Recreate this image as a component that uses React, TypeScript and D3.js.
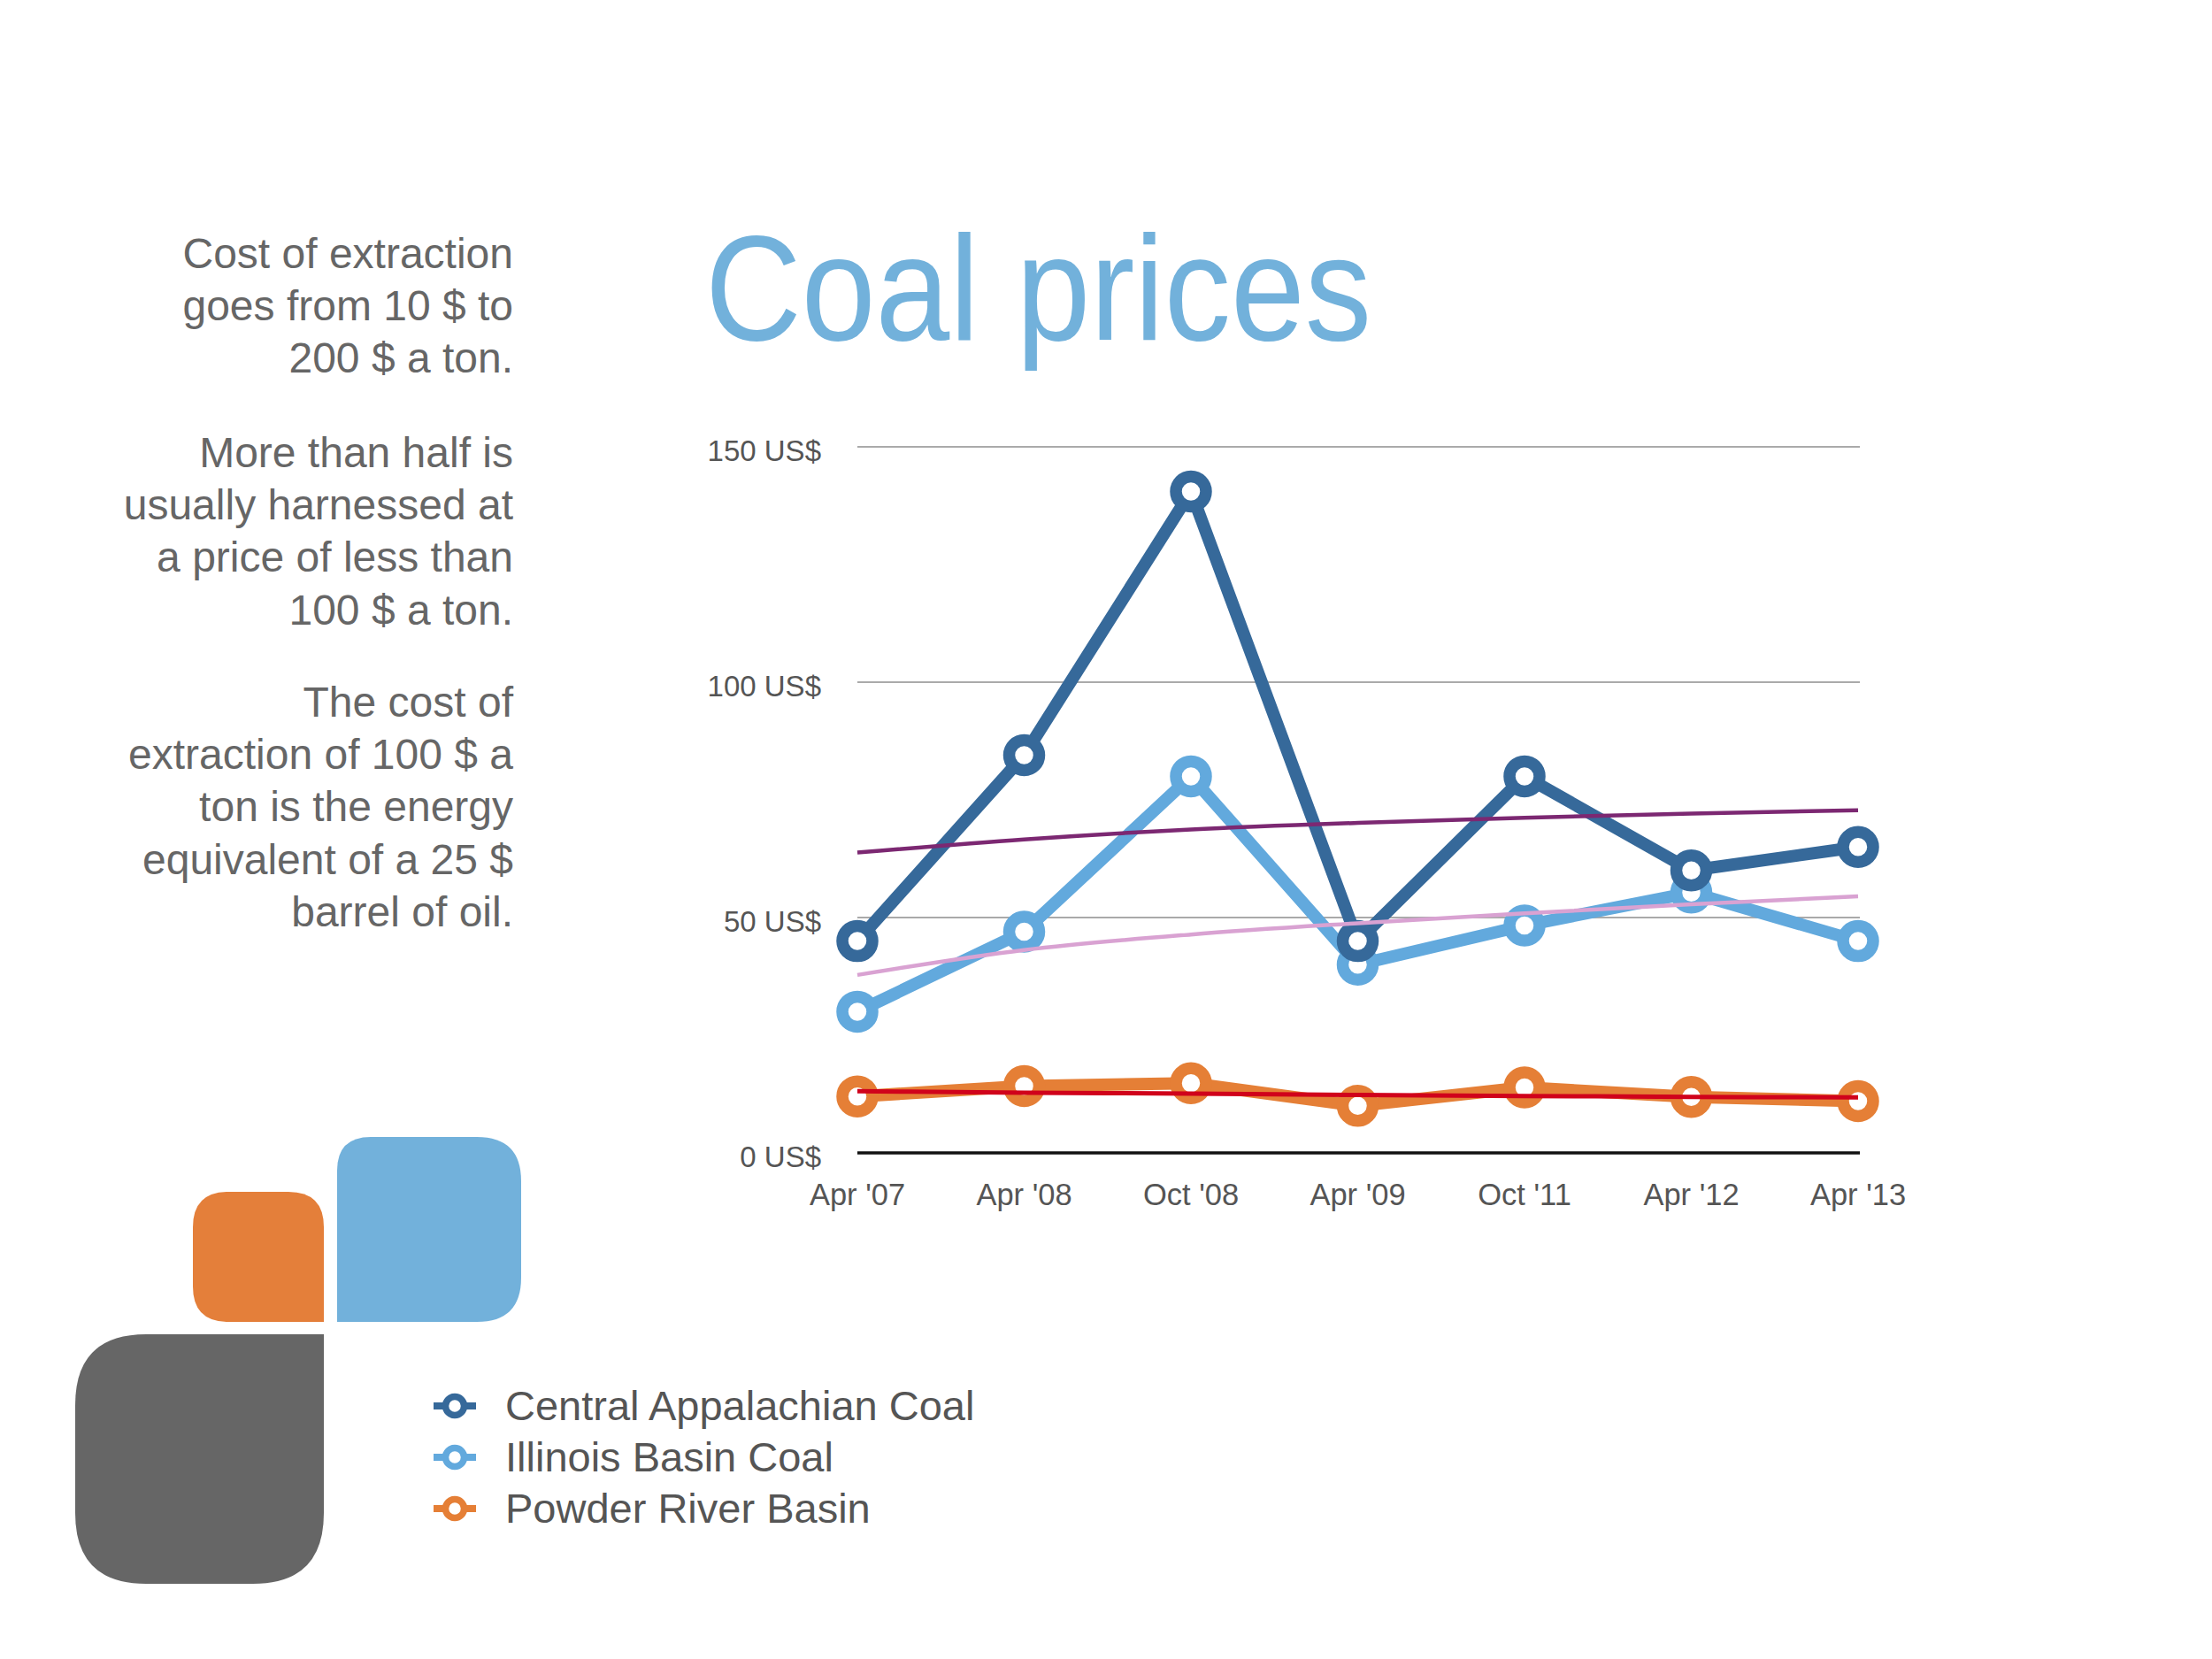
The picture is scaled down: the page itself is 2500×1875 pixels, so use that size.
import React from "react";
import * as d3 from "d3";

const categories = ["Apr '07", "Apr '08", "Oct '08", "Apr '09", "Oct '11", "Apr '12", "Apr '13"];
const centralAppalachian = [45, 84.5, 140.5, 45, 80, 60, 65];
const illinoisBasin = [30, 47, 80, 40, 48.3, 55.3, 45];
const powderRiver = [12, 14.2, 14.8, 10, 13.9, 11.9, 11];
const trendCentral = [63.8, 66.6, 68.7, 70.1, 71.2, 72.1, 72.8];
const trendIllinois = [37.8, 43.1, 46.4, 48.8, 50.9, 52.8, 54.5];
const trendPowder = [13.1, 12.8, 12.6, 12.3, 12.1, 11.9, 11.8];
const yTicks = [0, 50, 100, 150];
const seriesNames = ["Central Appalachian Coal", "Illinois Basin Coal", "Powder River Basin"];
const seriesColors = ["#36699A", "#62A9DD", "#E57F36"];
const trendColors = ["#7C2872", "#D9A2D2", "#D0021B"];
const titleText = "Coal prices";
const noteLines = [
  ["Cost of extraction", "goes from 10 $ to", "200 $ a ton."],
  ["More than half is", "usually harnessed at", "a price of less than", "100 $ a ton."],
  ["The cost of", "extraction of 100 $ a", "ton is the energy", "equivalent of a 25 $", "barrel of oil."],
];

const FONT = "'Liberation Sans', Arial, Helvetica, sans-serif";

function roundedRect(x0: number, y0: number, x1: number, y1: number, r: [number, number, number, number]) {
  // r: tl, tr, br, bl
  const p = d3.path();
  p.moveTo(x0 + r[0], y0);
  p.lineTo(x1 - r[1], y0);
  p.quadraticCurveTo(x1, y0, x1, y0 + r[1]);
  p.lineTo(x1, y1 - r[2]);
  p.quadraticCurveTo(x1, y1, x1 - r[2], y1);
  p.lineTo(x0 + r[3], y1);
  p.quadraticCurveTo(x0, y1, x0, y1 - r[3]);
  p.lineTo(x0, y0 + r[0]);
  p.quadraticCurveTo(x0, y0, x0 + r[0], y0);
  p.closePath();
  return p.toString();
}

export default function App() {
  const x = d3.scalePoint<string>().domain(categories).range([969, 2100]);
  const y = d3.scaleLinear().domain([0, 150]).range([1303, 505]);
  const series = [centralAppalachian, illinoisBasin, powderRiver];
  const trends = [trendCentral, trendIllinois, trendPowder];

  const line = d3
    .line<number>()
    .x((_, i) => x(categories[i]) as number)
    .y((d) => y(d));
  const trendLine = d3
    .line<number>()
    .x((_, i) => x(categories[i]) as number)
    .y((d) => y(d))
    .curve(d3.curveMonotoneX);

  // draw order: Powder (bottom), Illinois, Central
  const drawOrder = [2, 1, 0];

  const noteBaselines: { text: string; y: number }[] = [];
  const paraStarts = [303, 528, 810];
  noteLines.forEach((para, pi) => {
    para.forEach((t, li) => {
      noteBaselines.push({ text: t, y: paraStarts[pi] + li * 59.2 });
    });
  });

  const legendY = [1589, 1647, 1705];

  return (
    <svg
      width={2500}
      height={1875}
      style={{ position: "absolute", left: 0, top: 0, background: "#fff" }}
      fontFamily={FONT}
    >
      <rect x={0} y={0} width={2500} height={1875} fill="#fff" />

      {/* Title */}
      <text x={797} y={384} fontSize={168} fill="#72B1DB" textLength={753} lengthAdjust="spacingAndGlyphs">
        {titleText}
      </text>

      {/* Notes */}
      {noteBaselines.map((n, i) => (
        <text key={i} x={580} y={n.y} fontSize={48} fill="#666" textAnchor="end">
          {n.text}
        </text>
      ))}

      {/* Gridlines */}
      {yTicks.map((t) => (
        <g key={t}>
          <line
            x1={969}
            x2={2102}
            y1={y(t)}
            y2={y(t)}
            stroke={t === 0 ? "#111" : "#aaa"}
            strokeWidth={t === 0 ? 3.5 : 2}
          />
          <text x={928} y={y(t) + 16} fontSize={33} fill="#555" textAnchor="end">
            {`${t} US$`}
          </text>
        </g>
      ))}

      {/* X labels */}
      {categories.map((c) => (
        <text key={c} x={x(c) as number} y={1362} fontSize={34.5} fill="#555" textAnchor="middle">
          {c}
        </text>
      ))}

      {/* Series */}
      {drawOrder.map((si) => (
        <g key={si}>
          <path
            d={line(series[si]) as string}
            fill="none"
            stroke={seriesColors[si]}
            strokeWidth={14}
            strokeLinejoin="round"
          />
          {series[si].map((v, i) => (
            <circle
              key={i}
              cx={x(categories[i]) as number}
              cy={y(v)}
              r={17}
              fill="#fff"
              stroke={seriesColors[si]}
              strokeWidth={13.5}
            />
          ))}
        </g>
      ))}

      {/* Trend lines */}
      {trends.map((t, ti) => (
        <path
          key={ti}
          d={trendLine(t) as string}
          fill="none"
          stroke={trendColors[ti]}
          strokeWidth={ti === 2 ? 5 : 4.5}
        />
      ))}

      {/* Decorative shapes */}
      <path d={roundedRect(218, 1347, 366, 1494, [40, 40, 0, 40])} fill="#E47F3A" />
      <path d={roundedRect(381, 1285, 589, 1494, [38, 50, 50, 0])} fill="#72B1DB" />
      <path d={roundedRect(85, 1508, 366, 1790, [80, 0, 80, 80])} fill="#666666" />

      {/* Legend */}
      {seriesNames.map((name, i) => (
        <g key={name}>
          <line x1={490} x2={538} y1={legendY[i]} y2={legendY[i]} stroke={seriesColors[i]} strokeWidth={8} />
          <circle cx={514} cy={legendY[i]} r={10.5} fill="#fff" stroke={seriesColors[i]} strokeWidth={7.5} />
          <text x={571} y={legendY[i] + 16} fontSize={47} fill="#555">
            {name}
          </text>
        </g>
      ))}
    </svg>
  );
}
